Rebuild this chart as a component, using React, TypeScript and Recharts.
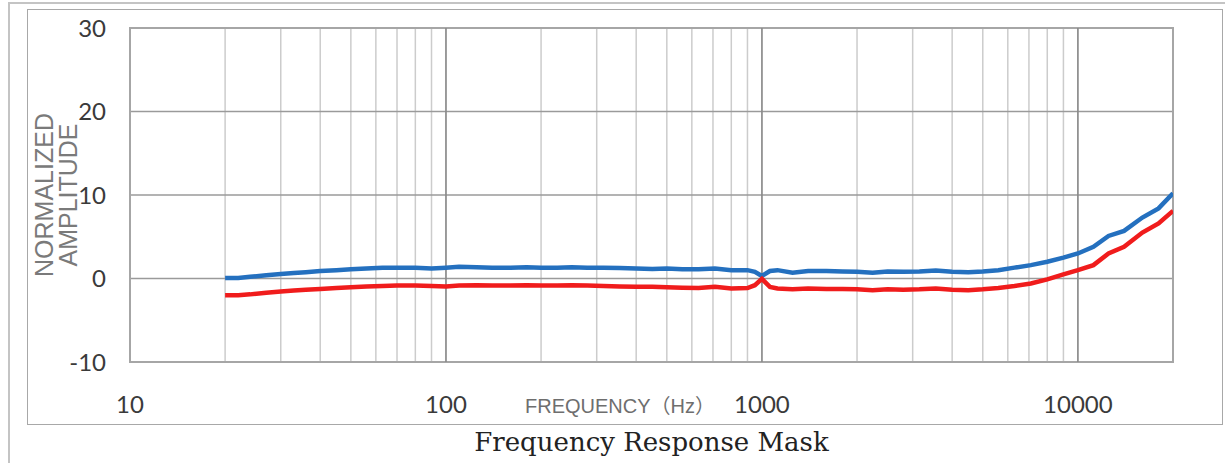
import { LineChart, Line, XAxis, YAxis, CartesianGrid, ReferenceLine, ReferenceArea } from "recharts"

const freqs = [
  20, 22, 24, 27, 30, 33, 36, 40, 45, 50, 56, 63, 70, 80, 90, 100, 110, 125, 140, 160, 180, 200, 225, 250, 280,
  315, 355, 400, 450, 500, 560, 630, 710, 800, 900, 950, 1000, 1060, 1120, 1250, 1400, 1600, 1800, 2000, 2240,
  2500, 2800, 3150, 3550, 4000, 4500, 5000, 5600, 6300, 7100, 8000, 9000, 10000, 11200, 12500, 14000, 16000,
  18000, 20000,
]

const upper = [
  0.05, 0.05, 0.2, 0.4, 0.55, 0.65, 0.75, 0.9, 1.0, 1.1, 1.2, 1.3, 1.3, 1.3, 1.2, 1.3, 1.4, 1.35, 1.3, 1.3, 1.35,
  1.3, 1.3, 1.35, 1.3, 1.3, 1.25, 1.2, 1.15, 1.2, 1.1, 1.1, 1.2, 1.0, 1.0, 0.8, 0.3, 0.9, 1.0, 0.7, 0.9, 0.9, 0.85,
  0.8, 0.7, 0.85, 0.8, 0.85, 0.95, 0.8, 0.75, 0.85, 1.0, 1.3, 1.6, 2.0, 2.5, 3.0, 3.8, 5.1, 5.7, 7.3, 8.4, 10.2,
]

const lower = [
  -2.0, -2.0, -1.9, -1.7, -1.55, -1.45, -1.35, -1.25, -1.15, -1.05, -0.95, -0.9, -0.85, -0.85, -0.9, -0.95, -0.85,
  -0.8, -0.85, -0.85, -0.8, -0.85, -0.85, -0.8, -0.85, -0.9, -0.95, -1.0, -1.0, -1.05, -1.1, -1.15, -1.0, -1.2,
  -1.15, -0.8, -0.05, -1.0, -1.2, -1.3, -1.2, -1.25, -1.25, -1.3, -1.4, -1.3, -1.35, -1.3, -1.2, -1.35, -1.4, -1.3,
  -1.15, -0.9, -0.6, -0.1, 0.5, 1.0, 1.6, 3.0, 3.8, 5.5, 6.6, 8.1,
]

const gridFreqs = [
  10, 20, 30, 40, 50, 60, 70, 80, 90, 100, 200, 300, 400, 500, 600, 700, 800, 900, 1000, 2000, 3000, 4000, 5000,
  6000, 7000, 8000, 9000, 10000, 20000,
]
const decades = [10, 100, 1000, 10000]
const yTicks = [-10, 0, 10, 20, 30]

const data = freqs.map((f, i) => ({ freq: f, upper: upper[i], lower: lower[i] }))

const tickFont = "Lato, 'Open Sans', sans-serif"

const XTick = ({ x, y, payload }: any) => {
  if (!decades.includes(payload.value)) return <g />
  return (
    <text x={x} y={y} dy="0.71em" textAnchor="middle" fontSize={24} fontFamily={tickFont} fill="#3a3a3a">
      {payload.value}
    </text>
  )
}

const XLabel = ({ viewBox }: any) => (
  <text
    x={viewBox.x + 395}
    y={viewBox.y + 51}
    fontSize={20}
    fontFamily="'Liberation Sans', 'Noto Sans CJK JP', sans-serif"
    fill="#6e6e6e"
  >
    FREQUENCY（Hz）
  </text>
)

const YLabel = ({ viewBox }: any) => {
  const cy = viewBox.y + viewBox.height / 2
  const style = { fontSize: 25, fontFamily: "'Liberation Sans', Arial, sans-serif", fill: "#7a7a7a" }
  return (
    <g>
      <text x={53} y={cy} textAnchor="middle" transform={`rotate(-90, 53, ${cy})`} {...style}>
        NORMALIZED
      </text>
      <text x={77} y={cy} textAnchor="middle" transform={`rotate(-90, 77, ${cy})`} {...style}>
        AMPLITUDE
      </text>
    </g>
  )
}

const App = () => {
  return (
    <div style={{ position: "absolute", left: 0, top: 0, width: 1225, height: 463, background: "#fff", overflow: "hidden" }}>
      <div style={{ position: "absolute", left: 8, top: 2, width: 1217, height: 461, borderLeft: "2px solid #c4c4c4", borderTop: "2px solid #c4c4c4" }} />
      <div style={{ position: "absolute", left: 27, top: 9, width: 1194, height: 414, border: "1.5px solid #a8a8a8" }} />
      <div style={{ position: "absolute", left: 0, top: 0 }}>
        <LineChart width={1225} height={463} data={data} margin={{ top: 28, right: 52, left: 0, bottom: 0 }}>
          <CartesianGrid stroke="#cccccc" strokeWidth={1.5} horizontal={false} />
          <CartesianGrid stroke="#9a9a9a" strokeWidth={1.5} vertical={false} />
          {decades.slice(1).map((d) => (
            <ReferenceLine key={d} x={d} stroke="#888888" strokeWidth={1.5} />
          ))}
          <ReferenceArea x1={10} x2={20000} y1={-10} y2={30} fill="none" stroke="#a6a6a6" strokeWidth={2} />
          <XAxis
            dataKey="freq"
            type="number"
            scale="log"
            domain={[10, 20000]}
            ticks={gridFreqs}
            interval={0}
            allowDataOverflow
            height={101}
            tickSize={0}
            tickMargin={34}
            axisLine={false}
            tick={<XTick />}
            label={<XLabel />}
          />
          <YAxis
            type="number"
            domain={[-10, 30]}
            ticks={yTicks}
            width={130}
            tickSize={0}
            tickMargin={24}
            axisLine={false}
            tick={{ fontSize: 24, fontFamily: tickFont, fill: "#3a3a3a" }}
            label={<YLabel />}
          />
          <Line dataKey="upper" stroke="#2470bf" strokeWidth={4.5} dot={false} isAnimationActive={false} />
          <Line dataKey="lower" stroke="#f01c1c" strokeWidth={4.5} dot={false} isAnimationActive={false} />
        </LineChart>
      </div>
      <div
        style={{
          position: "absolute",
          left: 130,
          width: 1043,
          top: 424,
          textAlign: "center",
          fontFamily: "'DejaVu Serif', serif",
          fontSize: 26,
          color: "#222",
          lineHeight: "36px",
        }}
      >
        Frequency Response Mask
      </div>
    </div>
  )
}

export default App
